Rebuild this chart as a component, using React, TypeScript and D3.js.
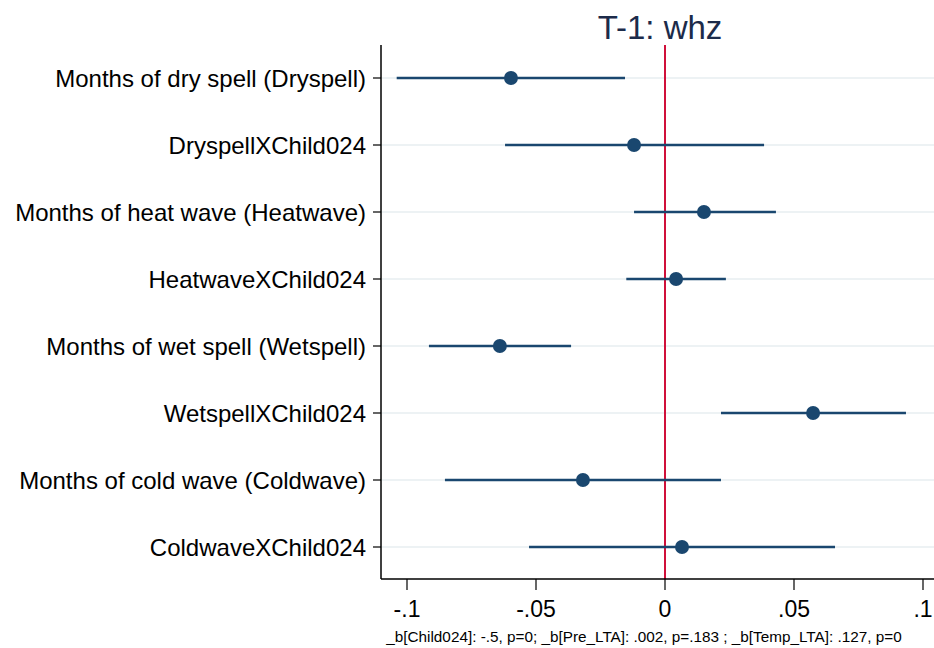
import React from "react";
import * as d3 from "d3";

const labels = [
  "Months of dry spell (Dryspell)",
  "DryspellXChild024",
  "Months of heat wave (Heatwave)",
  "HeatwaveXChild024",
  "Months of wet spell (Wetspell)",
  "WetspellXChild024",
  "Months of cold wave (Coldwave)",
  "ColdwaveXChild024",
];
const estimates = [-0.0597, -0.012, 0.0151, 0.0043, -0.064, 0.0574, -0.0318, 0.0066];
const lower = [-0.104, -0.062, -0.012, -0.015, -0.0915, 0.0217, -0.0853, -0.0527];
const upper = [-0.0155, 0.0384, 0.043, 0.0236, -0.0364, 0.0934, 0.0217, 0.0659];
const xTicks = [-0.1, -0.05, 0, 0.05, 0.1];
const title = "T-1: whz";
const note = "_b[Child024]: -.5, p=0; _b[Pre_LTA]: .002, p=.183 ; _b[Temp_LTA]: .127, p=0";

const W = 934;
const H = 648;
const navy = "#1a476f";

export default function App() {
  const x = d3.scaleLinear().domain([-0.1, 0.1]).range([407, 923]);
  const y = d3.scalePoint<string>().domain(labels).range([78, 547]);
  const plotLeft = 381;
  const plotTop = 45;
  const plotBottom = 579;
  const fmt = (v: number) => (v === 0 ? "0" : String(v).replace("0.", "."));

  return (
    <svg
      width={W}
      height={H}
      style={{ position: "absolute", left: 0, top: 0, background: "#fff" }}
      fontFamily="'Liberation Sans', Arial, sans-serif"
    >
      <text x={660} y={39} textAnchor="middle" fontSize={33} fill="#1c2b4a">
        {title}
      </text>

      {/* gridlines */}
      {labels.map((l) => (
        <line key={"g" + l} x1={plotLeft} x2={W} y1={y(l)} y2={y(l)} stroke="#edf2f4" strokeWidth={2} />
      ))}

      {/* zero line */}
      <line x1={x(0)} x2={x(0)} y1={plotTop} y2={plotBottom} stroke="#d0103a" strokeWidth={2} />

      {/* intervals and points */}
      {labels.map((l, i) => (
        <g key={"m" + l}>
          <line x1={x(lower[i])} x2={x(upper[i])} y1={y(l)} y2={y(l)} stroke={navy} strokeWidth={2.5} />
          <circle cx={x(estimates[i])} cy={y(l)} r={7} fill={navy} />
        </g>
      ))}

      {/* y axis */}
      <line x1={plotLeft} x2={plotLeft} y1={plotTop} y2={plotBottom} stroke="#000" strokeWidth={1.5} />
      {labels.map((l) => (
        <g key={"yl" + l}>
          <line x1={plotLeft - 8} x2={plotLeft} y1={y(l)} y2={y(l)} stroke="#000" strokeWidth={1.2} />
          <text x={plotLeft - 15} y={y(l)} dy="0.36em" textAnchor="end" fontSize={24} fill="#000">
            {l}
          </text>
        </g>
      ))}

      {/* x axis */}
      <line x1={plotLeft} x2={W} y1={plotBottom} y2={plotBottom} stroke="#000" strokeWidth={1.5} />
      {xTicks.map((t) => (
        <g key={"xt" + t}>
          <line x1={x(t)} x2={x(t)} y1={plotBottom} y2={plotBottom + 11} stroke="#000" strokeWidth={1.2} />
          <text x={x(t)} y={617} textAnchor="middle" fontSize={23} fill="#000">
            {fmt(t)}
          </text>
        </g>
      ))}

      <text x={644} y={642} textAnchor="middle" fontSize={15.3} fill="#000">
        {note}
      </text>
    </svg>
  );
}
